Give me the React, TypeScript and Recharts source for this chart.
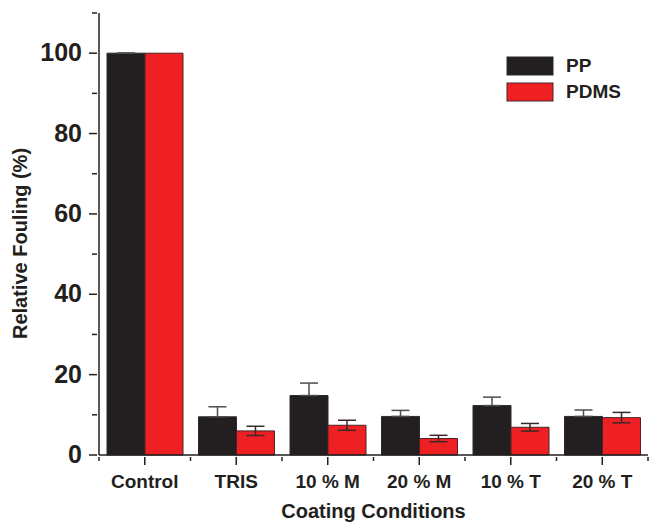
import React from 'react';
import { BarChart, Bar, XAxis, YAxis, ErrorBar } from 'recharts';

const categories = ['Control', 'TRIS', '10 % M', '20 % M', '10 % T', '20 % T'];
const ppValues = [100, 9.5, 14.8, 9.6, 12.3, 9.6];
const ppErrors = [0, 2.5, 3.1, 1.5, 2.1, 1.6];
const pdmsValues = [100, 6.0, 7.4, 4.1, 6.9, 9.3];
const pdmsErrors = [0, 1.15, 1.25, 0.8, 0.95, 1.3];
const yTicks = [0, 10, 20, 30, 40, 50, 60, 70, 80, 90, 100, 110];

const data = categories.map((c, i) => ({
  name: c,
  pp: ppValues[i],
  ppErr: [0, ppErrors[i]],
  pdms: pdmsValues[i],
  pdmsErr: pdmsErrors[i],
}));

const W = 649;
const H = 523;
const M = { top: 13, right: 1, bottom: 38, left: 0 };
const Y_W = 99;
const band = (W - M.right - Y_W) / categories.length;
const ink = '#231f20';
const red = '#ee2024';
const font = '"Liberation Sans", Arial, sans-serif';

const YTick = ({ x, y, payload }: any) => {
  const major = payload.value % 20 === 0;
  return (
    <g>
      <line x1={x - (major ? 8 : 5)} x2={x} y1={y} y2={y} stroke={ink} strokeWidth={1.5} />
      {major && (
        <text x={x - 15} y={y + 8} textAnchor="end" fontFamily={font} fontWeight="bold" fontSize={25} fill={ink}>
          {payload.value}
        </text>
      )}
    </g>
  );
};

const XTick = ({ x, y, payload, index }: any) => (
  <g>
    <line x1={x} x2={x} y1={y} y2={y + 8} stroke={ink} strokeWidth={1.5} />
    <line x1={x - band / 2} x2={x - band / 2} y1={y} y2={y + 4} stroke={ink} strokeWidth={1.5} />
    {index === categories.length - 1 && (
      <line x1={x + band / 2} x2={x + band / 2} y1={y} y2={y + 4} stroke={ink} strokeWidth={1.5} />
    )}
    <text x={x} y={y + 31} textAnchor="middle" fontFamily={font} fontWeight="bold" fontSize={19} fill={ink}>
      {payload.value}
    </text>
  </g>
);

const legendItems = [
  { name: 'PP', color: ink, stroke: '#2a2a2a' },
  { name: 'PDMS', color: red, stroke: '#4a2426' },
];

export default function App() {
  return (
    <div style={{ position: 'absolute', left: 0, top: 0, width: W, height: H, background: '#fff' }}>
      <BarChart width={W} height={H} data={data} margin={M} barGap={0} barSize={38}>
        <XAxis
          dataKey="name"
          height={30}
          axisLine={{ stroke: ink, strokeWidth: 1.5 }}
          tickLine={false}
          tickSize={0}
          tick={<XTick />}
          interval={0}
        />
        <YAxis
          width={Y_W}
          domain={[0, 110]}
          ticks={yTicks}
          interval={0}
          axisLine={{ stroke: ink, strokeWidth: 1.5 }}
          tickLine={false}
          tickSize={0}
          tick={<YTick />}
        />
        <Bar dataKey="pp" name="PP" fill={ink} stroke="#2a2a2a" strokeWidth={1} isAnimationActive={false}>
          <ErrorBar dataKey="ppErr" width={9} stroke="#4d4d4f" strokeWidth={1.5} direction="y" />
        </Bar>
        <Bar dataKey="pdms" name="PDMS" fill={red} stroke="#4a2426" strokeWidth={1} isAnimationActive={false}>
          <ErrorBar dataKey="pdmsErr" width={9} stroke="#3a2a2a" strokeWidth={1.5} direction="y" />
        </Bar>
      </BarChart>
      <svg width={W} height={H} style={{ position: 'absolute', left: 0, top: 0, pointerEvents: 'none' }}>
        <text x={27} y={243.5} transform="rotate(-90 27 243.5)" textAnchor="middle" fontFamily={font} fontWeight="bold" fontSize={20} fill={ink}>
          Relative Fouling (%)
        </text>
        <text x={373.5} y={518} textAnchor="middle" fontFamily={font} fontWeight="bold" fontSize={20} fill={ink}>
          Coating Conditions
        </text>
        {legendItems.map((d, i) => (
          <g key={d.name}>
            <rect x={507} y={57 + i * 26} width={46} height={18} fill={d.color} stroke={d.stroke} strokeWidth={1} />
            <text x={566} y={72 + i * 26} fontFamily={font} fontWeight="bold" fontSize={19} fill={ink}>
              {d.name}
            </text>
          </g>
        ))}
      </svg>
    </div>
  );
}
